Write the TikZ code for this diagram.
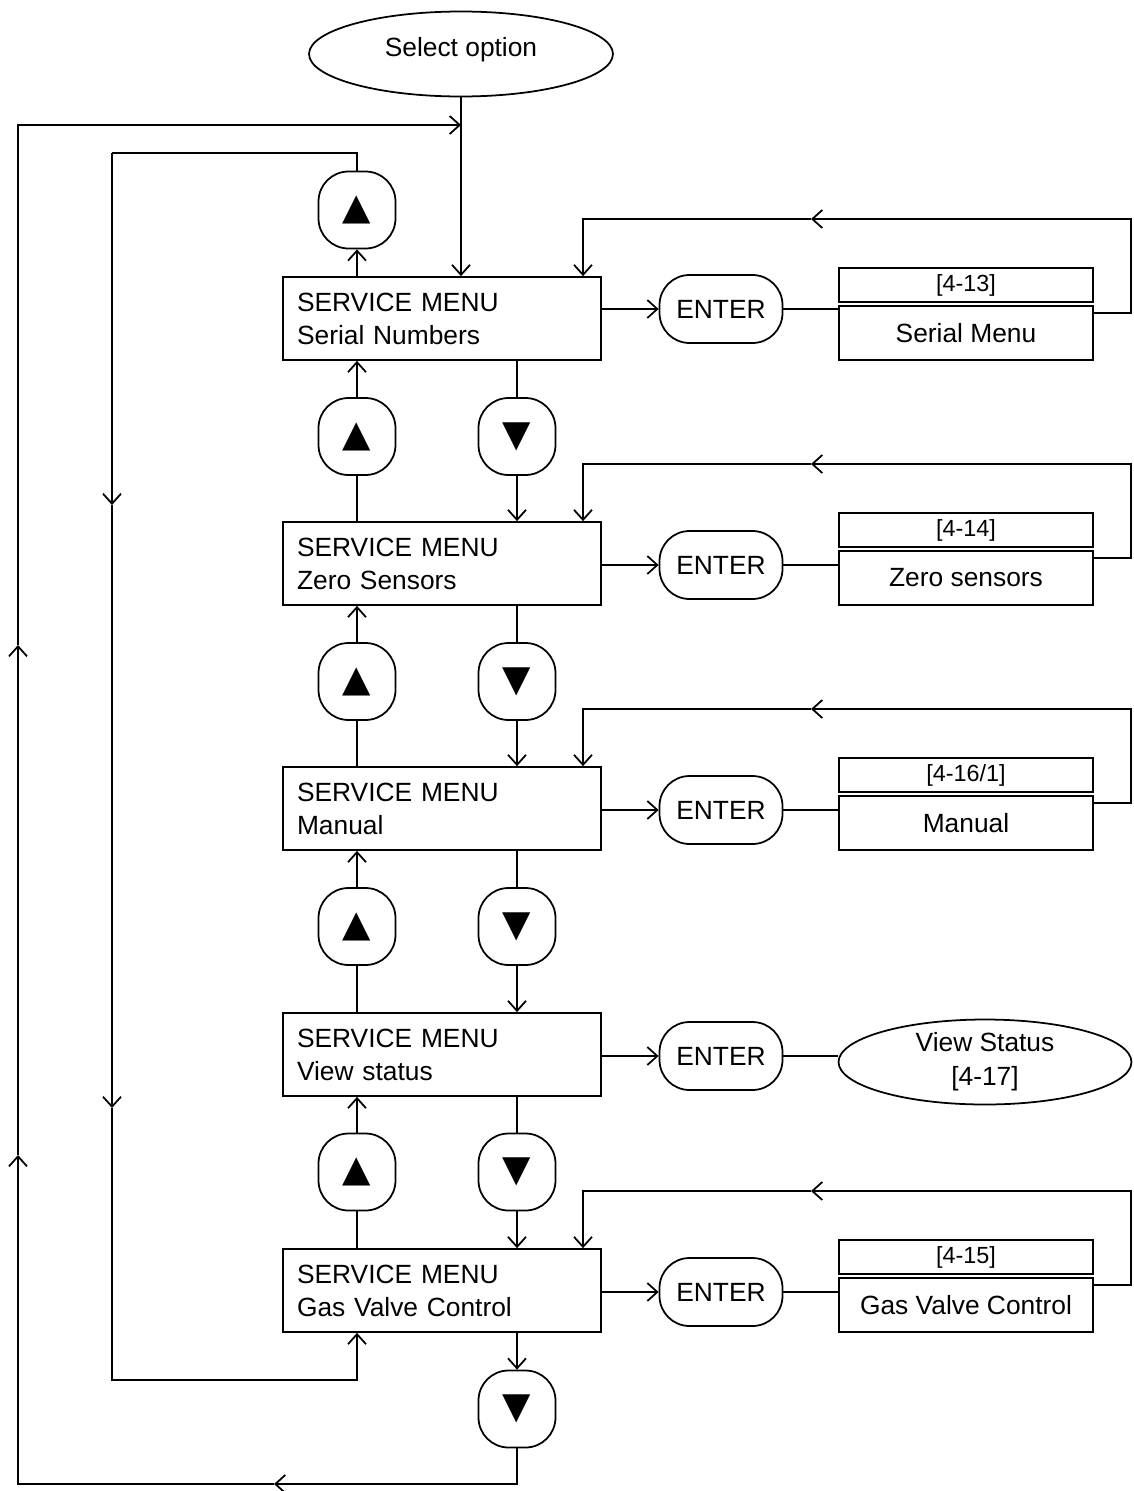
\documentclass[tikz,border=0pt]{standalone}
\usepackage{fontspec}
\setmainfont{Liberation Sans}
\newfontfamily\symfont{DejaVu Sans}
\usetikzlibrary{shapes.geometric,arrows.meta}

\tikzset{
  menu/.style={draw, minimum height=1.66cm, text width=5.8cm, inner xsep=0.28cm,
    align=left, font=\fontsize{15}{18.8}\selectfont},
  key/.style={draw, rounded corners=0.6cm, minimum width=1.54cm, minimum height=1.54cm,
    inner sep=0pt, font=\symfont\fontsize{21}{21}\selectfont},
  enter/.style={draw, rounded corners=0.6cm, minimum width=2.46cm, minimum height=1.36cm,
    inner sep=0pt, font=\fontsize{15}{18}\selectfont},
  ref/.style={draw, minimum width=5.08cm, minimum height=0.68cm, inner sep=0pt,
    font=\fontsize{13.3}{15}\selectfont},
  sub/.style={draw, minimum width=5.08cm, minimum height=1.08cm, inner sep=0pt,
    font=\fontsize{15}{18}\selectfont},
  oval/.style={draw, ellipse, minimum height=1.7cm, inner sep=0pt, align=center,
    font=\fontsize{15}{19.3}\selectfont},
  flow/.style={-{Straight Barb[length=2mm,width=3.6mm]}}
}

\begin{document}
\begin{tikzpicture}[x=0.02cm, y=-0.02cm, line width=1pt]
    \useasboundingbox (0,0) rectangle (1133,1491);

    % Start
    \node[oval, minimum width=6.08cm, text depth=0.3cm] (sel) at (461,54) {Select option};
    \coordinate (j) at (461,125);

    % Menu screens
    \node[menu] (box1) at (442,318.5) {SERVICE MENU\\Serial Numbers};
    \node[menu] (box2) at (442,563.5) {SERVICE MENU\\Zero Sensors};
    \node[menu] (box3) at (442,808.5) {SERVICE MENU\\Manual};
    \node[menu] (box4) at (442,1054.5) {SERVICE MENU\\View status};
    \node[menu] (box5) at (442,1290.5) {SERVICE MENU\\Gas Valve Control};

    % Up and down keys
    \node[key] (up0) at (357,210) {▲};
    \node[key] (up1) at (357,436.5) {▲};
    \node[key] (up2) at (357,681.5) {▲};
    \node[key] (up3) at (357,926.5) {▲};
    \node[key] (up4) at (357,1172) {▲};
    \node[key] (dn1) at (517,436.5) {▼};
    \node[key] (dn2) at (517,681.5) {▼};
    \node[key] (dn3) at (517,926.5) {▼};
    \node[key] (dn4) at (517,1172) {▼};
    \node[key] (dn5) at (517,1409) {▼};

    % Enter keys
    \node[enter] (ent1) at (721,309) {ENTER};
    \node[enter] (ent2) at (721,565) {ENTER};
    \node[enter] (ent3) at (721,810) {ENTER};
    \node[enter] (ent4) at (721,1056) {ENTER};
    \node[enter] (ent5) at (721,1292) {ENTER};

    % Sub menus
    \node[ref] (ref1) at (966,285) {[4-13]};
    \node[sub] (sub1) at (966,333) {Serial Menu};
    \node[ref] (ref2) at (966,530) {[4-14]};
    \node[sub] (sub2) at (966,578) {Zero sensors};
    \node[ref] (ref3) at (966,775) {[4-16/1]};
    \node[sub] (sub3) at (966,823) {Manual};
    \node[oval, minimum width=5.86cm] (vs) at (985,1062) {View Status\\{}[4-17]};
    \node[ref] (ref5) at (966,1257) {[4-15]};
    \node[sub] (sub5) at (966,1305) {Gas Valve Control};

    % Start into first screen
    \draw[flow] (sel.south) -- (sel.south |- box1.north);

    % Up/down between screens
    \draw[flow] (box1.north -| up0) -- (up0.south);
    \draw (box2.north -| up1) -- (up1.south);
    \draw[flow] (up1.north) -- (up1.north |- box1.south);
    \draw (box3.north -| up2) -- (up2.south);
    \draw[flow] (up2.north) -- (up2.north |- box2.south);
    \draw (box4.north -| up3) -- (up3.south);
    \draw[flow] (up3.north) -- (up3.north |- box3.south);
    \draw (box5.north -| up4) -- (up4.south);
    \draw[flow] (up4.north) -- (up4.north |- box4.south);
    \draw (box1.south -| dn1) -- (dn1.north);
    \draw[flow] (dn1.south) -- (dn1.south |- box2.north);
    \draw (box2.south -| dn2) -- (dn2.north);
    \draw[flow] (dn2.south) -- (dn2.south |- box3.north);
    \draw (box3.south -| dn3) -- (dn3.north);
    \draw[flow] (dn3.south) -- (dn3.south |- box4.north);
    \draw (box4.south -| dn4) -- (dn4.north);
    \draw[flow] (dn4.south) -- (dn4.south |- box5.north);
    \draw[flow] (box5.south -| dn5) -- (dn5.north);

    % Inner loop: up from first screen to last
    \coordinate (k1) at (112,153);
    \coordinate (k2) at (112,505);
    \coordinate (k3) at (112,1108);
    \coordinate (k4) at (112,1380);
    \draw (up0.north) |- (k1);
    \draw[flow] (k1) -- (k2);
    \draw[flow] (k2) -- (k3);
    \draw[flow] (k3) -- (k4) -| (box5.south -| up4);

    % Outer loop: down from last screen back to start
    \coordinate (m1) at (274,1484);
    \coordinate (m2) at (18,1155);
    \coordinate (m3) at (18,645);
    \draw[flow] (dn5.south) |- (m1);
    \draw[flow] (m1) -| (m2);
    \draw[flow] (m2) -- (m3);
    \draw[flow] (m3) |- (j);

    % Enter and return
    \draw[flow] (box1.east |- ent1) -- (ent1.west);
    \draw (ent1.east) -- (ent1.east -| sub1.west);
    \draw[flow] (box2.east |- ent2) -- (ent2.west);
    \draw (ent2.east) -- (ent2.east -| sub2.west);
    \draw[flow] (box3.east |- ent3) -- (ent3.west);
    \draw (ent3.east) -- (ent3.east -| sub3.west);
    \draw[flow] (box4.east |- ent4) -- (ent4.west);
    \draw (ent4.east) -- (ent4.east -| vs.west);
    \draw[flow] (box5.east |- ent5) -- (ent5.west);
    \draw (ent5.east) -- (ent5.east -| sub5.west);

    \coordinate (r1) at (1131,313);
    \coordinate (t1) at (811,219);
    \draw[flow] (sub1.east |- r1) -- (r1) |- (t1);
    \draw[flow] (t1) -| (box1.north -| 583,0);
    \coordinate (r2) at (1131,558);
    \coordinate (t2) at (811,464);
    \draw[flow] (sub2.east |- r2) -- (r2) |- (t2);
    \draw[flow] (t2) -| (box2.north -| 583,0);
    \coordinate (r3) at (1131,803);
    \coordinate (t3) at (811,709);
    \draw[flow] (sub3.east |- r3) -- (r3) |- (t3);
    \draw[flow] (t3) -| (box3.north -| 583,0);
    \coordinate (r5) at (1131,1285);
    \coordinate (t5) at (811,1191);
    \draw[flow] (sub5.east |- r5) -- (r5) |- (t5);
    \draw[flow] (t5) -| (box5.north -| 583,0);
\end{tikzpicture}
\end{document}
